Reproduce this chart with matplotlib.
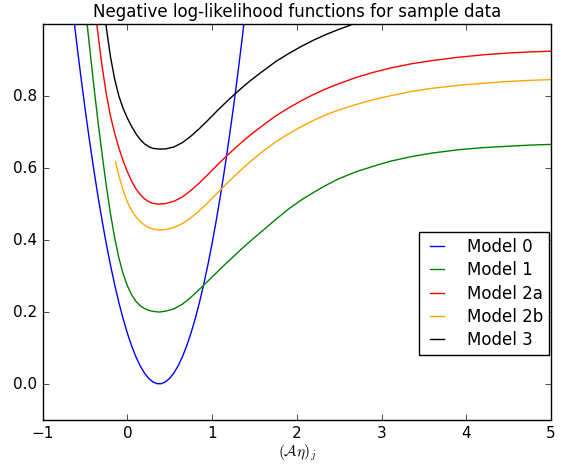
import matplotlib
matplotlib.use("Agg")
import matplotlib.pyplot as plt

# ===== 数据=====
x0 = [-0.65, -0.60, -0.55, -0.50, -0.45, -0.40, -0.35, -0.30, -0.25, -0.20, -0.15, -0.10,
      -0.05, 0.00, 0.05, 0.10, 0.15, 0.20, 0.25, 0.30, 0.35, 0.40, 0.45, 0.50, 0.55, 0.60,
      0.65, 0.70, 0.75, 0.80, 0.85, 0.90, 0.95, 1.00, 1.05, 1.10, 1.15, 1.20, 1.25, 1.30,
      1.35, 1.40]
y0 = [1.051, 0.951, 0.856, 0.766, 0.681, 0.601, 0.526, 0.456, 0.391, 0.331, 0.276, 0.226,
      0.181, 0.141, 0.106, 0.076, 0.051, 0.031, 0.016, 0.006, 0.001, 0.001, 0.006, 0.016,
      0.031, 0.051, 0.076, 0.106, 0.141, 0.181, 0.226, 0.276, 0.331, 0.391, 0.456, 0.526,
      0.601, 0.681, 0.766, 0.856, 0.951, 1.051]

x1 = [-0.50, -0.45, -0.40, -0.35, -0.30, -0.25, -0.20, -0.15, -0.10, -0.05, 0.00, 0.05,
      0.10, 0.15, 0.20, 0.25, 0.30, 0.375, 0.45, 0.55, 0.65, 0.75, 0.85, 0.95, 1.05, 1.15,
      1.25, 1.35, 1.45, 1.6, 1.75, 1.9, 2.05, 2.2, 2.35, 2.5, 2.7, 2.9, 3.1, 3.35, 3.6,
      3.9, 4.2, 4.5, 4.75, 5.0]
y1 = [1.055, 0.945, 0.837, 0.735, 0.641, 0.553, 0.474, 0.406, 0.350, 0.306, 0.273, 0.248,
      0.230, 0.218, 0.210, 0.205, 0.202, 0.200, 0.2025, 0.209, 0.222, 0.241, 0.263, 0.286,
      0.309, 0.332, 0.354, 0.376, 0.397, 0.427, 0.457, 0.486, 0.511, 0.533, 0.553, 0.571,
      0.590, 0.605, 0.619, 0.632, 0.642, 0.651, 0.657, 0.661, 0.664, 0.666]

x2a = [-0.40, -0.35, -0.30, -0.25, -0.20, -0.15, -0.10, -0.05, 0.00, 0.05, 0.10, 0.15,
       0.20, 0.25, 0.30, 0.375, 0.45, 0.55, 0.65, 0.75, 0.85, 0.95, 1.05, 1.15, 1.25, 1.35,
       1.45, 1.6, 1.75, 1.9, 2.05, 2.2, 2.35, 2.5, 2.7, 2.9, 3.1, 3.35, 3.6, 3.9, 4.2, 4.5,
       4.75, 5.0]
y2a = [1.070, 0.978, 0.885, 0.808, 0.745, 0.697, 0.656, 0.620, 0.590, 0.564, 0.543, 0.527,
       0.515, 0.507, 0.502, 0.500, 0.5015, 0.508, 0.520, 0.538, 0.559, 0.582, 0.606, 0.629,
       0.651, 0.672, 0.692, 0.719, 0.745, 0.767, 0.787, 0.805, 0.821, 0.835, 0.852, 0.866,
       0.878, 0.890, 0.899, 0.908, 0.915, 0.920, 0.923, 0.925]

x2b = [-0.14, -0.10, -0.05, 0.00, 0.05, 0.10, 0.15, 0.20, 0.25, 0.30, 0.375, 0.45, 0.55,
       0.65, 0.75, 0.85, 0.95, 1.05, 1.15, 1.25, 1.35, 1.45, 1.6, 1.75, 1.9, 2.05, 2.2,
       2.35, 2.5, 2.7, 2.9, 3.1, 3.35, 3.6, 3.9, 4.2, 4.5, 4.75, 5.0]
y2b = [0.618, 0.578, 0.538, 0.506, 0.482, 0.465, 0.452, 0.442, 0.435, 0.431, 0.428, 0.4295,
       0.435, 0.446, 0.462, 0.482, 0.504, 0.528, 0.552, 0.575, 0.597, 0.618, 0.647, 0.673,
       0.695, 0.715, 0.733, 0.749, 0.762, 0.777, 0.790, 0.801, 0.813, 0.822, 0.830, 0.836,
       0.841, 0.844, 0.846]

x3 = [-0.30, -0.25, -0.20, -0.15, -0.10, -0.05, 0.00, 0.05, 0.10, 0.15, 0.20, 0.25, 0.30,
      0.375, 0.45, 0.55, 0.65, 0.75, 0.85, 0.95, 1.05, 1.15, 1.25, 1.35, 1.45, 1.6, 1.75,
      1.9, 2.05, 2.2, 2.35, 2.5, 2.65, 2.8]
y3 = [1.085, 0.993, 0.910, 0.847, 0.800, 0.766, 0.739, 0.716, 0.696, 0.680, 0.668, 0.660,
      0.655, 0.653, 0.6535, 0.659, 0.671, 0.689, 0.710, 0.733, 0.757, 0.780, 0.802, 0.823,
      0.843, 0.870, 0.896, 0.918, 0.938, 0.956, 0.972, 0.986, 0.999, 1.011]

labels = ["Model 0", "Model 1", "Model 2a", "Model 2b", "Model 3"]
colors = ["#0000ff", "#008000", "#ff0000", "#ffa500", "#000000"]
yticks = [0.0, 0.2, 0.4, 0.6, 0.8]

# ===== 画图 =====
plt.style.use("classic")
fig = plt.figure(figsize=(5.66, 4.66), dpi=100, facecolor="white")
ax = fig.add_axes([0.0754, 0.0987, 0.898, 0.8493])

for xs, ys, lab, col in zip([x0, x1, x2a, x2b, x3], [y0, y1, y2a, y2b, y3], labels, colors):
    ax.plot(xs, ys, color=col, lw=1.0, label=lab)

ax.set_xlim(-1, 5)
ax.set_ylim(-0.1, 1.0)
ax.set_yticks(yticks)
ax.set_title("Negative log-likelihood functions for sample data", fontsize=12)
ax.set_xlabel(r"$(\mathcal{A}\eta)_j$", fontsize=11, labelpad=1.5)
ax.tick_params(labelsize=11)

ax.legend(loc="lower right", bbox_to_anchor=(0.996, 0.164), borderaxespad=0,
          fontsize=12, handlelength=1.45, handletextpad=1.05, labelspacing=0.32,
          borderpad=0.35, fancybox=False)

fig.savefig("out.png", dpi=100, facecolor="white")
